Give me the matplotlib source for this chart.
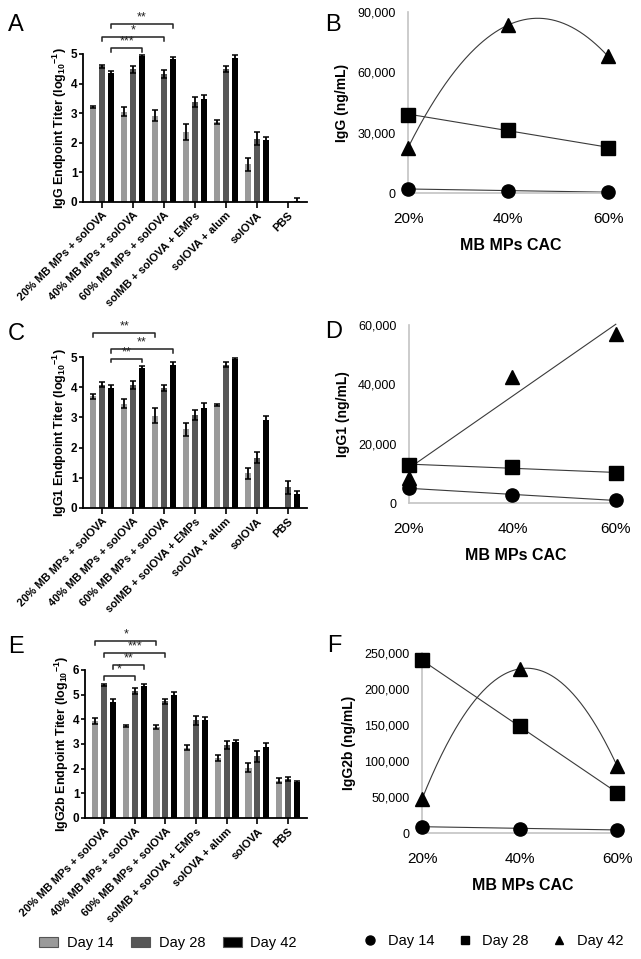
import matplotlib
matplotlib.use('Agg')
import matplotlib.pyplot as plt
import numpy as np
from matplotlib.patches import Patch
from matplotlib.lines import Line2D
from matplotlib.ticker import FuncFormatter

plt.rcParams['font.family'] = ['Liberation Sans', 'DejaVu Sans']
plt.rcParams['mathtext.fontset'] = 'custom'
plt.rcParams['mathtext.bf'] = 'Liberation Sans:bold'
plt.rcParams['mathtext.rm'] = 'Liberation Sans'
plt.rcParams['mathtext.default'] = 'bf'

# ---- data: endpoint titers (log10) ----
groups = ['20% MB MPs + solOVA', '40% MB MPs + solOVA', '60% MB MPs + solOVA',
          'solMB + solOVA + EMPs', 'solOVA + alum', 'solOVA', 'PBS']
days = ['Day 14', 'Day 28', 'Day 42']

igg_d14 = [3.22, 3.05, 2.92, 2.38, 2.70, 1.27, 0.0]
igg_d28 = [4.58, 4.48, 4.33, 3.38, 4.48, 2.13, 0.0]
igg_d42 = [4.35, 4.92, 4.83, 3.48, 4.88, 2.08, 0.02]
igg_e14 = [0.03, 0.15, 0.20, 0.27, 0.06, 0.23, 0.0]
igg_e28 = [0.05, 0.12, 0.13, 0.16, 0.10, 0.22, 0.0]
igg_e42 = [0.06, 0.06, 0.08, 0.14, 0.10, 0.10, 0.10]

igg1_d14 = [3.70, 3.45, 3.05, 2.60, 3.42, 1.15, 0.0]
igg1_d28 = [4.08, 4.07, 3.98, 3.07, 4.75, 1.67, 0.68]
igg1_d42 = [3.96, 4.63, 4.75, 3.30, 4.93, 2.92, 0.45]
igg1_e14 = [0.08, 0.15, 0.25, 0.22, 0.04, 0.18, 0.0]
igg1_e28 = [0.08, 0.12, 0.10, 0.17, 0.07, 0.17, 0.20]
igg1_e42 = [0.12, 0.08, 0.08, 0.17, 0.03, 0.12, 0.10]

igg2b_d14 = [3.93, 3.73, 3.68, 2.85, 2.43, 2.03, 1.52]
igg2b_d28 = [5.40, 5.15, 4.73, 3.97, 2.97, 2.50, 1.57]
igg2b_d42 = [4.70, 5.37, 4.98, 3.96, 3.07, 2.87, 1.45]
igg2b_e14 = [0.13, 0.04, 0.08, 0.10, 0.12, 0.18, 0.10]
igg2b_e28 = [0.04, 0.12, 0.10, 0.18, 0.17, 0.22, 0.08]
igg2b_e42 = [0.13, 0.05, 0.12, 0.15, 0.10, 0.17, 0.04]

# significance brackets: (group a, day a, group b, day b, height, stars)
sig_igg = [(0, 2, 1, 2, 5.2, '***'), (0, 1, 2, 1, 5.57, '*'), (0, 2, 2, 2, 6.01, '**')]
sig_igg1 = [(0, 2, 1, 2, 4.95, '**'), (0, 2, 2, 2, 5.26, '**'), (0, 0, 2, 0, 5.8, '**')]
sig_igg2b = [(0, 1, 1, 1, 5.75, '*'), (0, 2, 1, 2, 6.19, '**'),
             (0, 1, 2, 1, 6.68, '***'), (0, 0, 2, 0, 7.17, '*')]

# ---- data: antibody concentrations vs CAC ----
cac = [20, 40, 60]
cac_labels = ['20%', '40%', '60%']
igg_ng_d14 = [2100, 1000, 500]
igg_ng_d28 = [39000, 31500, 22500]
igg_ng_d42 = [22500, 83500, 68000]
igg1_ng_d14 = [5000, 2800, 900]
igg1_ng_d28 = [12800, 12300, 10000]
igg1_ng_d42 = [8500, 42500, 57000]
igg2b_ng_d14 = [9000, 6000, 4500]
igg2b_ng_d28 = [240000, 148000, 56000]
igg2b_ng_d42 = [47000, 228000, 93000]

bar_colors = ['#9a9a9a', '#575757', '#000000']
W, H = 641, 959
fig = plt.figure(figsize=(W / 100, H / 100), dpi=100)


def px_axes(left, top, right, bottom):
    return fig.add_axes([left / W, 1 - bottom / H, (right - left) / W, (bottom - top) / H])


def bar_panel(ax, vals, errs, ymax, ylabel, sigs, drop):
    x = np.arange(len(groups))
    off = 0.29
    for k in range(3):
        xs = x + (k - 1) * off
        ax.bar(xs, vals[k], width=0.2, color=bar_colors[k], zorder=2)
        e = np.array(errs[k])
        m = e > 0
        ax.errorbar(xs[m], np.array(vals[k])[m], yerr=e[m], fmt='none', ecolor='black',
                    elinewidth=1.3, capsize=2, capthick=1.1, zorder=3)
    ax.set_xlim(-0.62, 6.62)
    ax.set_ylim(0, ymax)
    ax.set_yticks(range(ymax + 1))
    ax.set_xticks(x)
    ax.set_xticklabels(groups, rotation=45, ha='right', rotation_mode='anchor',
                       fontsize=8, fontweight='bold')
    for lab in ax.get_yticklabels():
        lab.set_fontweight('bold')
    ax.tick_params(axis='y', labelsize=8.5, length=3, width=1.2, pad=1)
    ax.tick_params(axis='x', length=4, width=1.2, pad=2)
    for s in ['top', 'right']:
        ax.spines[s].set_visible(False)
    for s in ['left', 'bottom']:
        ax.spines[s].set_linewidth(1.3)
    ax.set_ylabel(ylabel, fontsize=9, fontweight='bold', labelpad=1.5)
    for ga, da, gb, db, h, star in sigs:
        xa = ga + (da - 1) * off
        xb = gb + (db - 1) * off
        ax.plot([xa, xa, xb, xb], [h - drop, h, h, h - drop], color='#222222',
                lw=1.1, clip_on=False)
        ax.text((xa + xb) / 2, h + drop * 0.1, star, ha='center', va='bottom',
                fontsize=9, color='#222222', clip_on=False)


def line_panel(ax, series, ymax, step, ylabel, degs, xright):
    markers = ['o', 's', '^']
    xs = np.linspace(20, 60, 200)
    for vals, mk, deg in zip(series, markers, degs):
        coef = np.polyfit(cac, vals, deg)
        ax.plot(xs, np.polyval(coef, xs), color='#3a3a3a', lw=0.8, zorder=2, clip_on=False)
        ax.plot(cac, vals, linestyle='none', marker=mk, color='black',
                markersize=9.5 if mk != '^' else 10, zorder=3, clip_on=False)
    ax.set_xlim(20, xright)
    ax.set_ylim(0, ymax)
    ax.set_yticks(np.arange(0, ymax + 1, step))
    ax.yaxis.set_major_formatter(FuncFormatter(lambda v, p: f'{int(v):,}'))
    ax.set_xticks(cac)
    ax.set_xticklabels(cac_labels)
    ax.tick_params(axis='x', length=0, labelsize=11, pad=14)
    ax.tick_params(axis='y', length=0, labelsize=9, pad=9)
    for s in ['top', 'right']:
        ax.spines[s].set_visible(False)
    for s in ['left', 'bottom']:
        ax.spines[s].set_color('#c4c4c4')
        ax.spines[s].set_linewidth(1.2)
    ax.set_ylabel(ylabel, fontsize=10, fontweight='bold', labelpad=6)
    ax.set_xlabel('MB MPs CAC', fontsize=11.5, fontweight='bold', labelpad=8)


axA = px_axes(83, 54, 307, 202)
bar_panel(axA, [igg_d14, igg_d28, igg_d42], [igg_e14, igg_e28, igg_e42], 5,
          'IgG Endpoint Titer (log$_{10}$$^{-1}$)', sig_igg, 0.13)
axC = px_axes(83, 357, 307, 508)
bar_panel(axC, [igg1_d14, igg1_d28, igg1_d42], [igg1_e14, igg1_e28, igg1_e42], 5,
          'IgG1 Endpoint Titer (log$_{10}$$^{-1}$)', sig_igg1, 0.13)
axE = px_axes(85, 670, 307, 818)
bar_panel(axE, [igg2b_d14, igg2b_d28, igg2b_d42], [igg2b_e14, igg2b_e28, igg2b_e42], 6,
          'IgG2b Endpoint Titer (log$_{10}$$^{-1}$)', sig_igg2b, 0.16)

axB = px_axes(408, 12, 614, 193)
line_panel(axB, [igg_ng_d14, igg_ng_d28, igg_ng_d42], 90000, 30000, 'IgG (ng/mL)', [1, 1, 2], 61.2)
axD = px_axes(409, 325, 622, 503)
line_panel(axD, [igg1_ng_d14, igg1_ng_d28, igg1_ng_d42], 60000, 20000, 'IgG1 (ng/mL)', [1, 1, 1], 61.2)
axF = px_axes(422, 653, 623, 833)
line_panel(axF, [igg2b_ng_d14, igg2b_ng_d28, igg2b_ng_d42], 250000, 50000, 'IgG2b (ng/mL)', [1, 1, 2], 61.2)

for letter, lx, ly in [('A', 8, 31), ('B', 325, 31), ('C', 8, 340), ('D', 325, 338),
                       ('E', 8, 653), ('F', 327, 652)]:
    fig.text(lx / W, 1 - ly / H, letter, fontsize=17, va='baseline', ha='left')

bar_handles = [Patch(facecolor=c, edgecolor='#555555', linewidth=0.8) for c in bar_colors]
fig.legend(bar_handles, days, loc='center', bbox_to_anchor=(168 / W, 1 - 943 / H), ncol=3,
           frameon=False, fontsize=10.5, handlelength=1.3, handleheight=0.65,
           handletextpad=0.6, columnspacing=1.2)
line_handles = [Line2D([], [], linestyle='none', marker=m, color='black', markersize=ms)
                for m, ms in [('o', 6.5), ('s', 5.5), ('^', 6)]]
fig.legend(line_handles, days, loc='center', bbox_to_anchor=(493 / W, 1 - 941 / H), ncol=3,
           frameon=False, fontsize=10.5, handlelength=1.0, handletextpad=0.7,
           columnspacing=1.6)

plt.savefig('out.png', dpi=100)
